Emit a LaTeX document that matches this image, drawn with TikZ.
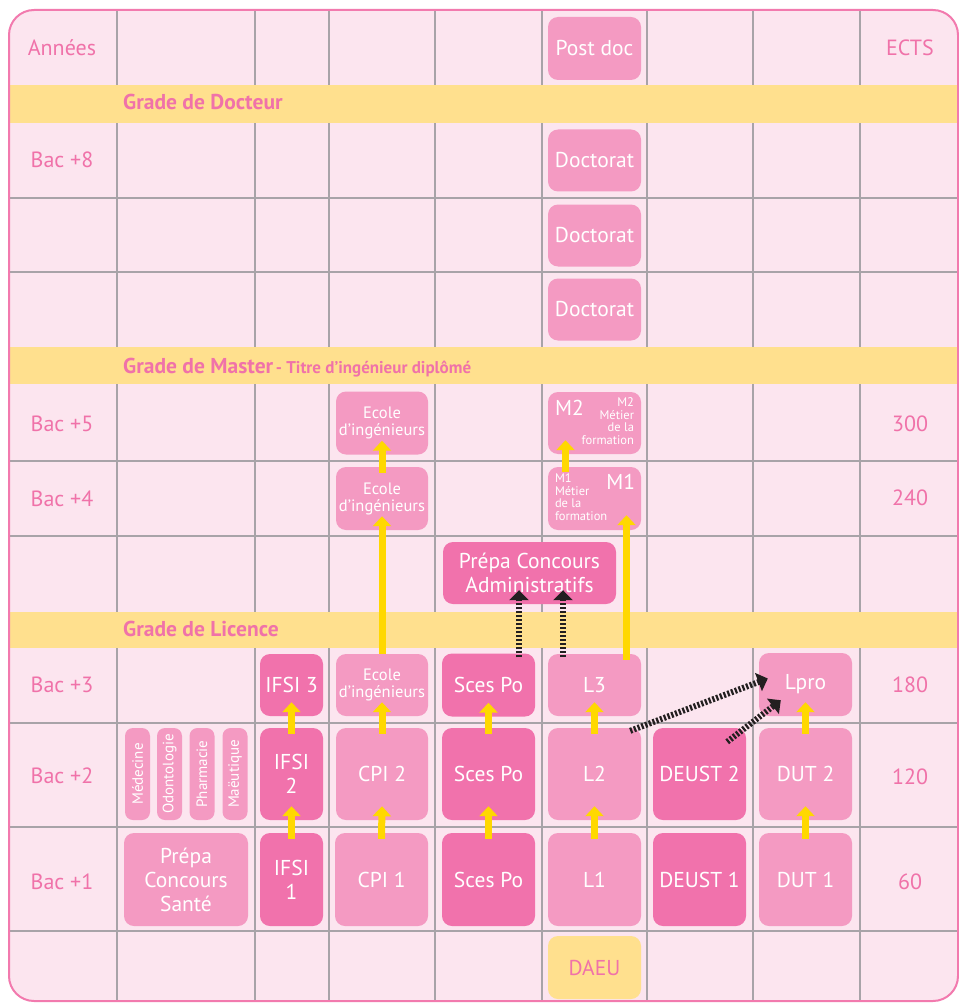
\documentclass[tikz,border=0pt]{standalone}
\usepackage{fontspec}
\setmainfont{PT Sans}
\usetikzlibrary{arrows.meta}

\definecolor{bgpink}{HTML}{FCE5EF}
\definecolor{framepink}{HTML}{F27AAE}
\definecolor{bandyellow}{HTML}{FFE08E}
\definecolor{txtpink}{HTML}{F072A9}
\definecolor{boxlite}{HTML}{F49AC2}
\definecolor{boxdark}{HTML}{F172AC}
\definecolor{arrowyellow}{HTML}{FFD800}
\definecolor{gridgray}{HTML}{A8A3A8}
\definecolor{dashblack}{HTML}{231F20}

\newcommand{\boxfont}{\fontsize{21.5}{24}\selectfont}
\newcommand{\labfont}{\fontsize{22}{24}\selectfont}
\newcommand{\ecolefont}{\fontsize{16.5}{17}\selectfont}
\newcommand{\tinyfont}{\fontsize{12.5}{12.5}\selectfont}
\newcommand{\bandfont}{\fontsize{21.5}{22}\selectfont\bfseries}
\newcommand{\bandsmall}{\fontsize{17}{18}\selectfont\bfseries}

\begin{document}
\begin{tikzpicture}[x=1pt, y=-1pt,
  box/.style={rounded corners=10pt, inner sep=0pt, text=white, align=center, font=\boxfont},
  lite/.style={box, fill=boxlite},
  dark/.style={box, fill=boxdark},
  ecolebox/.style={lite, font=\ecolefont},
  daeubox/.style={box, fill=bandyellow, text=txtpink},
  vbox/.style={lite, rounded corners=8pt, rotate=90, minimum width=92pt, minimum height=25pt, font=\fontsize{15}{15}\selectfont},
  lab/.style={text=txtpink, font=\labfont},
  yarrow/.style={draw=arrowyellow, line width=7pt, -{Triangle[width=18pt,length=10pt]}},
  darrow/.style={draw=dashblack, line width=6pt, dash pattern=on 2.2pt off 1.8pt, -{Triangle[width=19pt,length=10pt]}}]
  \useasboundingbox (0,0) rectangle (958,1003);
  % ---- frame, grid and grade bands ----
  \fill[bgpink, rounded corners=25pt] (9,10) rectangle (958,1001);
  \foreach \x in {117,255,329,435,542,647,753,860} { \draw[gridgray, line width=1.2pt] (\x,10) -- (\x,1001); }
  \foreach \y in {198,272,461,536,723,827,931} { \draw[gridgray, line width=1.2pt] (9,\y) -- (958,\y); }
  \foreach \ya/\yb in {85/123, 347/384, 612/648} { \fill[bandyellow] (10,\ya) rectangle (957,\yb); }
  \draw[framepink, line width=2pt, rounded corners=25pt] (9,10) rectangle (958,1001);
  \node[text=txtpink, anchor=base west, inner sep=0pt, font=\bandfont] (grdoc) at (123,110) {Grade de Docteur};
  \node[text=txtpink, anchor=base west, inner sep=0pt] (grmas) at (123,373) {{\bandfont Grade de Master} {\bandsmall - Titre d'ingénieur diplômé}};
  \node[text=txtpink, anchor=base west, inner sep=0pt, font=\bandfont] (grlic) at (123,636) {Grade de Licence};
  % ---- years and ECTS ----
  \foreach \y/\t in {48/Années, 160/{Bac +8}, 424/{Bac +5}, 499/{Bac +4}, 685/{Bac +3}, 776/{Bac +2}, 882/{Bac +1}} {
    \node[lab] (yr\y) at (62,\y) {\t};
  }
  \foreach \y/\t in {48/ECTS, 424/300, 498/240, 685/180, 777/120, 882/60} {
    \node[lab] (ects\y) at (910,\y) {\t};
  }
  % ---- courses (name/x/y/width/height/style/text) ----
  \foreach \n/\x/\y/\w/\h/\s/\t in {
    postdoc/594.5/48.5/93/63/lite/{Post doc}, docA/594.5/160.5/93/62/lite/Doctorat,
    docB/594.5/235.5/93/62/lite/Doctorat, docC/594.5/309.5/93/62/lite/Doctorat,
    ecoleC/382/423/92/63/ecolebox/{Ecole\\d'ingénieurs}, mB/594.5/423/93/62/lite/{},
    ecoleB/382/498.5/92/63/ecolebox/{Ecole\\d'ingénieurs}, mA/594.5/498.5/93/63/lite/{},
    prepaadm/529.5/573/173/62/dark/{Prépa Concours\\Administratifs},
    ifsiC/291.5/685/63/62/dark/{IFSI 3}, ecoleA/382/685/92/62/ecolebox/{Ecole\\d'ingénieurs},
    scpoC/488.5/685/93/63/dark/{Sces Po}, lC/594.5/685/93/62/lite/L3, lpro/805.5/684.5/93/63/lite/Lpro,
    ifsiB/291.5/774/63/92/dark/{IFSI\\2}, cpiB/382/774/92/92/lite/{CPI 2},
    scpoB/488.5/774/93/92/dark/{Sces Po}, lB/594.5/774/93/92/lite/L2,
    deustB/699.5/774/93/92/dark/{DEUST 2}, dutB/805.5/774/93/92/lite/{DUT 2},
    sante/186/879.5/124/93/lite/{Prépa\\Concours\\Santé}, ifsiA/291.5/879.5/63/93/dark/{IFSI\\1},
    cpiA/381.5/879.5/93/93/lite/{CPI 1}, scpoA/488.5/879.5/93/93/dark/{Sces Po},
    lA/594.5/879.5/93/93/lite/L1, deustA/699.5/879.5/93/93/dark/{DEUST 1},
    dutA/805.5/879.5/93/93/lite/{DUT 1}, daeu/594.5/967.5/93/63/daeubox/DAEU} {
    \node[\s, minimum width=\w pt, minimum height=\h pt] (\n) at (\x,\y) {\t};
  }
  \foreach \n/\x/\t in {med/137.5/Médecine, odonto/169.5/Odontologie, pharma/202/Pharmacie, maieu/235/Maëutique} {
    \node[vbox] (\n) at (\x,774) {\t};
  }
  % ---- M1 / M2 labels ----
  \node[anchor=north west, text=white, inner sep=0pt, font=\boxfont] (mBbig) at ([xshift=7pt,yshift=-8pt]mB.north west) {M2};
  \node[anchor=north east, text=white, inner sep=0pt, align=right, font=\tinyfont] (mBsmall) at ([xshift=-7pt,yshift=-6pt]mB.north east) {M2\\Métier\\de la\\formation};
  \node[anchor=north west, text=white, inner sep=0pt, align=left, font=\tinyfont] (mAsmall) at ([xshift=7pt,yshift=-7pt]mA.north west) {M1\\Métier\\de la\\formation};
  \node[anchor=north east, text=white, inner sep=0pt, font=\boxfont] (mAbig) at ([xshift=-6pt,yshift=-7pt]mA.north east) {M1};
  % ---- yellow progressions ----
  \foreach \a/\b in {ifsiA/ifsiB, ifsiB/ifsiC, cpiA/cpiB, cpiB/ecoleA, scpoA/scpoB, scpoB/scpoC,
    lA/lB, lB/lC, dutA/dutB, dutB/lpro, ecoleB/ecoleC} {
    \draw[yarrow] ([yshift=-6pt]\a.north) -- ([yshift=14pt]\b.south);
  }
  \draw[yarrow] ([xshift=-29pt,yshift=-5pt]mA.north) -- ([xshift=-29pt,yshift=14pt]mB.south);
  \draw[yarrow] (ecoleA.north) -- ([yshift=14pt]ecoleB.south);
  \draw[yarrow] ([xshift=32pt,yshift=-6pt]lC.north) -- ([xshift=32pt,yshift=15pt]mA.south);
  % ---- passerelles ----
  \draw[darrow] ([xshift=30.5pt,yshift=-4pt]scpoC.north) -- ([xshift=-10.5pt,yshift=14pt]prepaadm.south);
  \draw[darrow] ([xshift=-31.5pt,yshift=-3pt]lC.north) -- ([xshift=33.5pt,yshift=14pt]prepaadm.south);
  \draw[darrow] ([xshift=-11pt,yshift=-3pt]lB.north east) -- ([xshift=9pt,yshift=6pt]lpro.west);
  \draw[darrow] ([xshift=-19pt,yshift=-14pt]deustB.north east) -- ([xshift=22pt,yshift=16pt]lpro.south west);
\end{tikzpicture}
\end{document}
